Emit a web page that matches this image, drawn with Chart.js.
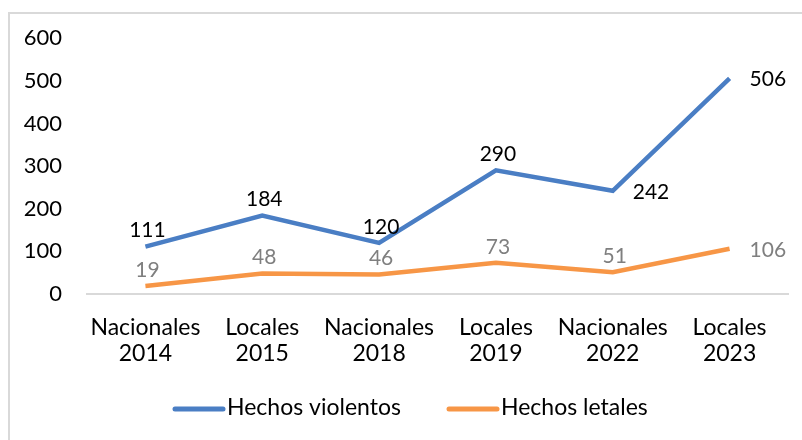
<!DOCTYPE html>
<html>
<head>
<meta charset="utf-8">
<script src="https://cdn.jsdelivr.net/npm/chart.js@4"></script>
<style>
  html, body { margin: 0; padding: 0; background: #fff; }
  #wrap { position: relative; width: 802px; height: 440px; overflow: hidden; }
  #frame { position: absolute; left: 8px; top: 12px; width: 900px; height: 500px;
           border-left: 2px solid #d9d9d9; border-top: 2px solid #d9d9d9; box-sizing: border-box; }
  #chart { position: absolute; left: 0; top: 0; }
</style>
</head>
<body>
<div id="wrap">
  <div id="frame"></div>
  <canvas id="chart" width="802" height="440"></canvas>
</div>
<script>
/* ========== Data ========== */
const categories = [
  ['Nacionales', '2014'], ['Locales', '2015'], ['Nacionales', '2018'],
  ['Locales', '2019'], ['Nacionales', '2022'], ['Locales', '2023']
];
const violentos = [111, 184, 120, 290, 242, 506];
const letales = [19, 48, 46, 73, 51, 106];
const violentosPos = ['above', 'above', 'above', 'above', 'right', 'right'];
const letalesPos = ['above', 'above', 'above', 'above', 'above', 'right'];
const yTicks = [0, 100, 200, 300, 400, 500, 600];

const FONT = "Lato, 'Open Sans', sans-serif";
const BLUE = '#4A7EC4';
const ORANGE = '#F79646';

/* ========== Data labels ========== */
const labelPlugin = {
  id: 'pointLabels',
  afterDatasetsDraw(chart) {
    const { ctx } = chart;
    chart.data.datasets.forEach((ds, i) => {
      const meta = chart.getDatasetMeta(i);
      meta.data.forEach((pt, idx) => {
        const pos = ds.labelPos[idx];
        ctx.save();
        ctx.font = '21px ' + FONT;
        ctx.fillStyle = ds.labelColor;
        ctx.textBaseline = 'middle';
        if (pos === 'right') {
          ctx.textAlign = 'left';
          ctx.fillText(ds.data[idx], pt.x + 20, pt.y + 1);
        } else {
          ctx.textAlign = 'center';
          ctx.fillText(ds.data[idx], pt.x + 2, pt.y - 16);
        }
        ctx.restore();
      });
    });
  }
};

/* ========== Legend ========== */
const legendPlugin = {
  id: 'lineLegend',
  afterDraw(chart) {
    const { ctx } = chart;
    const items = [{ x: 173, ds: chart.data.datasets[0] }, { x: 447, ds: chart.data.datasets[1] }];
    ctx.save();
    ctx.font = '23px ' + FONT;
    ctx.textBaseline = 'middle';
    ctx.textAlign = 'left';
    items.forEach(it => {
      ctx.strokeStyle = it.ds.borderColor;
      ctx.lineWidth = 5;
      ctx.lineCap = 'round';
      ctx.beginPath();
      ctx.moveTo(it.x + 2, 409);
      ctx.lineTo(it.x + 50, 409);
      ctx.stroke();
      ctx.fillStyle = '#000';
      ctx.fillText(it.ds.label, it.x + 54, 408);
    });
    ctx.restore();
  }
};

new Chart(document.getElementById('chart'), {
  type: 'line',
  data: {
    labels: categories,
    datasets: [
      {
        label: 'Hechos violentos',
        data: violentos,
        borderColor: BLUE,
        backgroundColor: BLUE,
        borderWidth: 4.5,
        pointRadius: 0,
        tension: 0,
        labelPos: violentosPos,
        labelColor: '#000'
      },
      {
        label: 'Hechos letales',
        data: letales,
        borderColor: ORANGE,
        backgroundColor: ORANGE,
        borderWidth: 4.5,
        pointRadius: 0,
        tension: 0,
        labelPos: letalesPos,
        labelColor: '#7f7f7f'
      }
    ]
  },
  options: {
    responsive: false,
    animation: false,
    layout: { padding: { left: 0, right: 14, top: 38, bottom: 66 } },
    plugins: {
      legend: { display: false },
      tooltip: { enabled: false }
    },
    scales: {
      x: {
        offset: true,
        grid: { display: false, drawTicks: false },
        border: { display: true, color: '#d9d9d9', width: 2 },
        ticks: { color: '#000', padding: 20, font: { family: FONT, size: 23, lineHeight: 1.15 }, maxRotation: 0 },
        afterFit(scale) { scale.height = 80; }
      },
      y: {
        min: 0,
        max: 600,
        grid: { display: false, drawTicks: false },
        border: { display: false },
        afterBuildTicks(scale) { scale.ticks = yTicks.map(v => ({ value: v })); },
        ticks: { color: '#000', padding: 25, font: { family: FONT, size: 22 } },
        afterFit(scale) { scale.width = 87; }
      }
    }
  },
  plugins: [labelPlugin, legendPlugin]
});
</script>
</body>
</html>
